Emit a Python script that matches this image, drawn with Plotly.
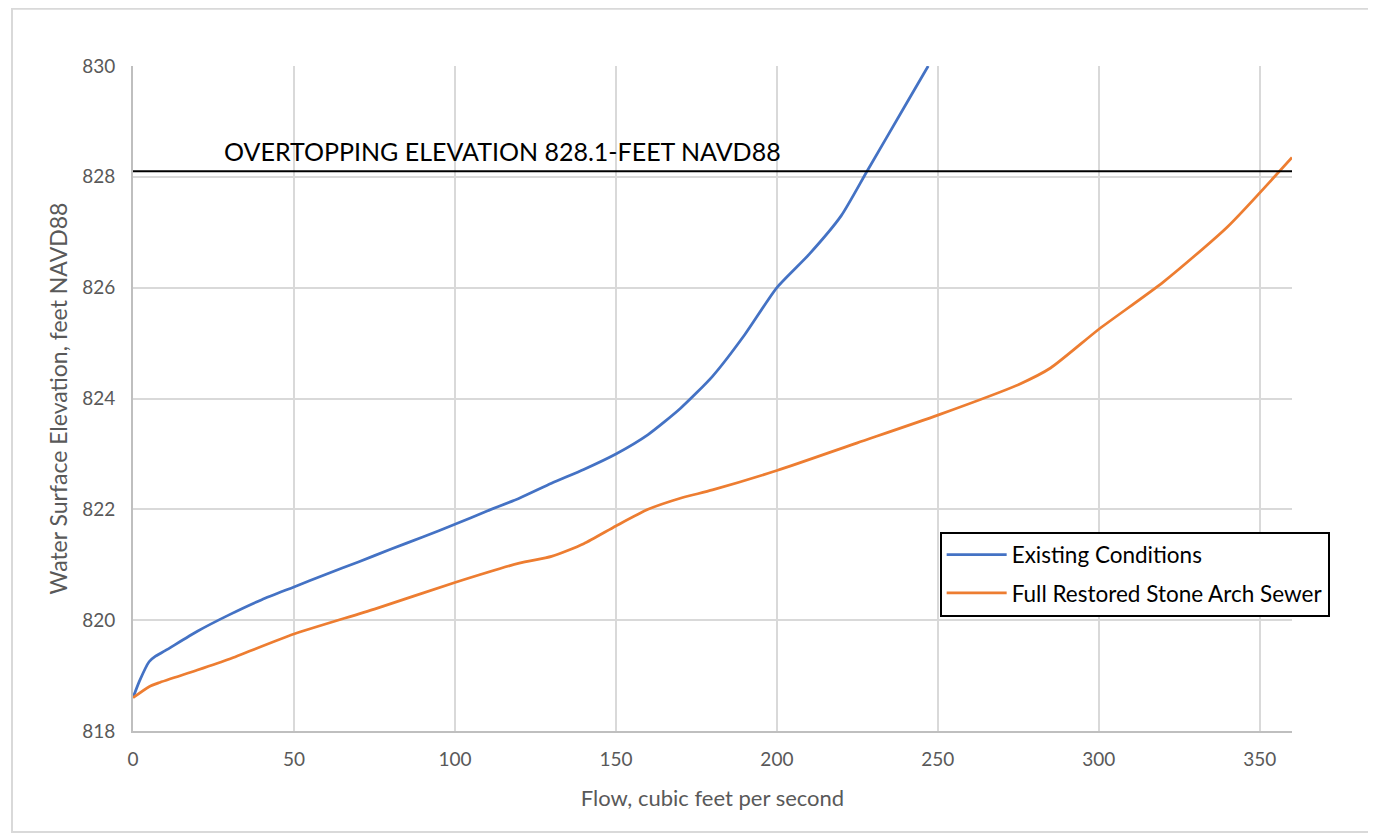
import plotly.graph_objects as go

# Existing Conditions
ex_flow = [0, 2, 5, 7, 10, 20, 30, 40, 50, 60, 70, 80, 90, 100, 110, 120, 130, 140, 150,
           160, 170, 180, 190, 200, 210, 220, 228, 240, 247]
ex_elev = [818.6, 818.9, 819.25, 819.35, 819.45, 819.8, 820.1, 820.37, 820.6, 820.83, 821.05,
           821.28, 821.5, 821.73, 821.97, 822.2, 822.47, 822.72, 823.0, 823.35, 823.82, 824.4,
           825.15, 826.0, 826.6, 827.3, 828.1, 829.3, 830.0]

# Full Restored Stone Arch Sewer
fr_flow = [0, 5, 8, 20, 30, 50, 75, 100, 120, 130, 140, 150, 160, 170, 180, 200, 225, 250,
           275, 285, 300, 320, 340, 360]
fr_elev = [818.6, 818.8, 818.87, 819.1, 819.3, 819.75, 820.2, 820.68, 821.03, 821.15, 821.38,
           821.7, 822.0, 822.2, 822.35, 822.7, 823.2, 823.7, 824.25, 824.55, 825.25, 826.1,
           827.1, 828.35]

OVERTOP_ELEV = 828.1
OVERTOP_LABEL = "OVERTOPPING ELEVATION 828.1-FEET NAVD88"
X_RANGE = [0, 360]
Y_RANGE = [818, 830]
X_TICKS = [0, 50, 100, 150, 200, 250, 300, 350]
Y_TICKS = [818, 820, 822, 824, 826, 828, 830]

FONT = "Lato"
GRAY = "#595959"

fig = go.Figure()
fig.add_trace(go.Scatter(x=ex_flow, y=ex_elev, mode="lines", name="Existing Conditions",
                         line=dict(color="#4472C4", width=2.75, shape="spline", smoothing=0.6),
                         legendgroup="a"))
fig.add_trace(go.Scatter(x=fr_flow, y=fr_elev, mode="lines", name="Full Restored Stone Arch Sewer",
                         line=dict(color="#ED7D31", width=2.75, shape="spline", smoothing=0.6),
                         legendgroup="b"))

fig.add_shape(type="line", xref="x", yref="y", x0=X_RANGE[0], x1=X_RANGE[1],
              y0=OVERTOP_ELEV, y1=OVERTOP_ELEV, line=dict(color="black", width=2))
fig.add_annotation(x=27.5, y=OVERTOP_ELEV, xref="x", yref="y", text=OVERTOP_LABEL,
                   showarrow=False, xanchor="left", yanchor="bottom", yshift=3,
                   font=dict(family=FONT, size=25, color="black"))

# outer chart border
fig.add_shape(type="rect", xref="paper", yref="paper", x0=-0.1044, x1=1.0673, y0=-0.152, y1=1.086,
              line=dict(color="#d9d9d9", width=2), layer="below")

fig.update_layout(
    width=1376, height=837,
    margin=dict(l=125, r=92, t=58, b=114),
    paper_bgcolor="white", plot_bgcolor="white",
    font=dict(family=FONT, color=GRAY, size=19),
    legend=dict(x=0.696, y=0.30, xanchor="left", yanchor="top",
                bgcolor="white", bordercolor="black", borderwidth=2,
                font=dict(family=FONT, size=22.5, color="black"),
                tracegroupgap=6, traceorder="grouped", itemwidth=60),
    showlegend=True,
)
fig.update_xaxes(range=X_RANGE, tickvals=X_TICKS, showgrid=True, gridcolor="#d9d9d9", gridwidth=1.5,
                 showline=True, linecolor="#bfbfbf", linewidth=2, zeroline=False,
                 ticks="", ticklabelstandoff=10,
                 title=dict(text="Flow, cubic feet per second", font=dict(size=22, color=GRAY), standoff=22),
                 tickfont=dict(size=19, color=GRAY))
fig.update_yaxes(range=Y_RANGE, tickvals=Y_TICKS, showgrid=True, gridcolor="#d9d9d9", gridwidth=1.5,
                 showline=True, linecolor="#bfbfbf", linewidth=2, zeroline=False,
                 ticks="", ticklabelstandoff=12,
                 title=dict(text="Water Surface Elevation, feet NAVD88", font=dict(size=23, color=GRAY), standoff=8),
                 tickfont=dict(size=19, color=GRAY))

fig.write_html("out.html")
